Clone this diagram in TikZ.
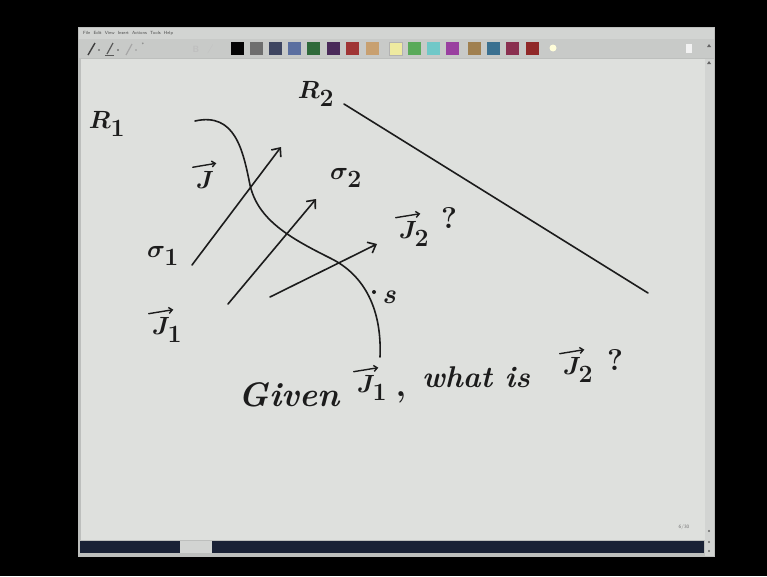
\documentclass[tikz,border=0pt]{standalone}
\usetikzlibrary{arrows.meta}
\definecolor{ink}{HTML}{1C1C1C}
\definecolor{pagebg}{HTML}{DEE0DD}
\definecolor{frame}{HTML}{BDBFBD}
\definecolor{menubg}{HTML}{D2D4D2}
\definecolor{toolbg}{HTML}{C8CAC8}
\definecolor{navy}{HTML}{1A2236}
\definecolor{cA}{HTML}{050505}
\definecolor{cB}{HTML}{6E6E6E}
\definecolor{cC}{HTML}{3E4560}
\definecolor{cD}{HTML}{5B6FA0}
\definecolor{cE}{HTML}{2F6A3A}
\definecolor{cF}{HTML}{4A2A5A}
\definecolor{cG}{HTML}{A03535}
\definecolor{cH}{HTML}{C8A070}
\definecolor{cI}{HTML}{EEEAA0}
\definecolor{cJ}{HTML}{5AAA5A}
\definecolor{cK}{HTML}{70C8C8}
\definecolor{cL}{HTML}{9A40A0}
\definecolor{cM}{HTML}{A08050}
\definecolor{cN}{HTML}{3A7090}
\definecolor{cO}{HTML}{8A3050}
\definecolor{cP}{HTML}{902828}
\begin{document}
\begin{tikzpicture}[x=1pt,y=-1pt,
  pen/.style={draw=ink,line width=1.6pt,line cap=round,line join=round},
  penarrow/.style={pen,-{Straight Barb[length=7pt,width=12pt,line width=1.6pt]}},
  vecbar/.style={pen,line width=1.4pt,-{Straight Barb[length=3.5pt,width=6pt,line width=1.4pt]}},
  hand/.style={text=ink,inner sep=0pt,font=\fontsize{34}{40}\selectfont\boldmath},
  qmark/.style={text=ink,inner sep=0pt,font=\fontsize{30}{34}\selectfont\bfseries},
  script/.style={text=ink,inner sep=0pt,font=\fontsize{30}{34}\selectfont\bfseries\itshape},
  swatch/.style={minimum width=13pt,minimum height=13pt,inner sep=0pt}]
\useasboundingbox (0,0) rectangle (767,576);
\fill[black] (0,0) rectangle (767,576);
% window
\fill[frame] (78,27) rectangle (715,557);
\fill[menubg] (79,28) rectangle (714,39);
\fill[toolbg] (79,39) rectangle (714,58);
\fill[pagebg] (81,59) rectangle (705,540);
\fill[menubg] (705,59) rectangle (714,556);
\fill[navy] (80,541) rectangle (180,553);
\fill[menubg] (180,541) rectangle (212,553);
\fill[navy] (212,541) rectangle (704,553);
\node[font=\fontsize{4.5}{5}\sffamily,text=black!70,anchor=west,inner sep=0pt] (menu) at (83,33.5) {File\ \ Edit\ \ View\ \ Insert\ \ Actions\ \ Tools\ \ Help};
% toolbar icons
\draw[line width=1.4pt,black!75] (88,55) -- (95,43);
\fill[black!70] (99,50) circle (0.8);
\draw[line width=1.2pt,black!65] (107,54) -- (113,43);
\draw[line width=0.8pt,black!65] (105,55) -- (114,55);
\fill[black!70] (118,50) circle (0.8);
\draw[line width=1.2pt,black!35] (126,55) -- (132,44);
\fill[black!40] (136,50) circle (0.8);
\node[font=\fontsize{5}{5}\sffamily,text=black!50,inner sep=0pt] (star) at (143,45) {*};
\node[font=\fontsize{9}{9}\sffamily\bfseries,text=black!25,inner sep=0pt] (bold) at (196,49) {B};
\node[font=\fontsize{9}{9}\sffamily\itshape,text=black!25,inner sep=0pt] (ital) at (210,49) {/};
\foreach \xx/\cc in {231/cA,250/cB,269/cC,288/cD,307/cE,327/cF,346/cG,366/cH,389/cI,408/cJ,427/cK,446/cL,468/cM,487/cN,506/cO,526/cP}
  \node[swatch,fill=\cc,anchor=north west] at (\xx,42) {};
\draw[black!30,line width=0.6pt] (389,42) rectangle (402,55);
\fill[white!85!yellow] (553,48) circle (3.5);
\fill[white!90!gray] (686,44) rectangle (692,53);
\fill[black!60] (707,47) -- (711,47) -- (709,44) -- cycle;
\fill[black!60] (707,64) -- (711,64) -- (709,61) -- cycle;
\fill[black!60] (709,531) circle (1.2);
\fill[black!60] (709,542) circle (1.2);
\fill[black!60] (709,551) circle (1.2);
\node[font=\fontsize{5}{5}\sffamily,text=black!55,inner sep=0pt] (pgno) at (684,527) {6/30};
% handwriting labels
\node[hand] (R1) at (107,124) {$R_{1}$};
\node[hand] (R2) at (316,94) {$R_{2}$};
\coordinate (Lstart) at (344,104);
\coordinate (Lend) at (648,293);
\draw[pen] (Lstart) -- (Lend);
\node[hand] (J) at (205,180) {$J$};
\draw[vecbar] ([xshift=-3pt,yshift=4pt]J.north west) -- ([xshift=2pt,yshift=8pt]J.north east);
\node[hand] (s1) at (163,256) {$\sigma_{1}$};
\node[hand] (J1) at (167,330) {$J_{1}$};
\draw[vecbar] ([xshift=-3pt,yshift=4pt]J1.north west) -- ([xshift=-9pt,yshift=8pt]J1.north east);
\node[hand] (s2) at (346,178) {$\sigma_{2}$};
\node[hand] (J2) at (414,234) {$J_{2}$};
\draw[vecbar] ([xshift=-3pt,yshift=4pt]J2.north west) -- ([xshift=-9pt,yshift=8pt]J2.north east);
\node[qmark] (q1) at (449,218) {?};
% arrows
\coordinate (a1s) at (192,265); \coordinate (a1e) at (281,147);
\coordinate (a2s) at (228,304); \coordinate (a2e) at (316,199);
\coordinate (a3s) at (270,297); \coordinate (a3e) at (377,244);
\draw[penarrow] (a1s) -- (a1e);
\draw[penarrow] (a2s) -- (a2e);
\draw[penarrow] (a3s) -- (a3e);
% boundary curve
\coordinate (c0) at (195,121);
\coordinate (c1) at (250,185);
\coordinate (c2) at (330,258);
\coordinate (c3) at (380,357);
\draw[pen] (c0) .. controls (235,112) and (243,150) .. (c1)
  .. controls (258,220) and (290,238) .. (c2)
  .. controls (365,275) and (382,310) .. (c3);
\coordinate (sdot) at (374,292);
\fill[ink] (sdot) circle (2);
\node[script,font=\fontsize{28}{30}\selectfont\bfseries\itshape] (s) at (389,297) {s};
% question
\node[script,font=\fontsize{34}{38}\selectfont\bfseries\itshape] (given) at (289,395) {Given};
\node[hand] (gJ1) at (372,388) {$J_{1}$};
\draw[vecbar] ([xshift=-3pt,yshift=4pt]gJ1.north west) -- ([xshift=-9pt,yshift=8pt]gJ1.north east);
\node[hand,font=\fontsize{34}{40}\selectfont\bfseries] (comma) at (401,397) {,};
\node[script] (what) at (476,377) {what is};
\node[hand] (gJ2) at (578,370) {$J_{2}$};
\draw[vecbar] ([xshift=-3pt,yshift=4pt]gJ2.north west) -- ([xshift=-9pt,yshift=8pt]gJ2.north east);
\node[qmark] (q2) at (615,360) {?};
\end{tikzpicture}
\end{document}
